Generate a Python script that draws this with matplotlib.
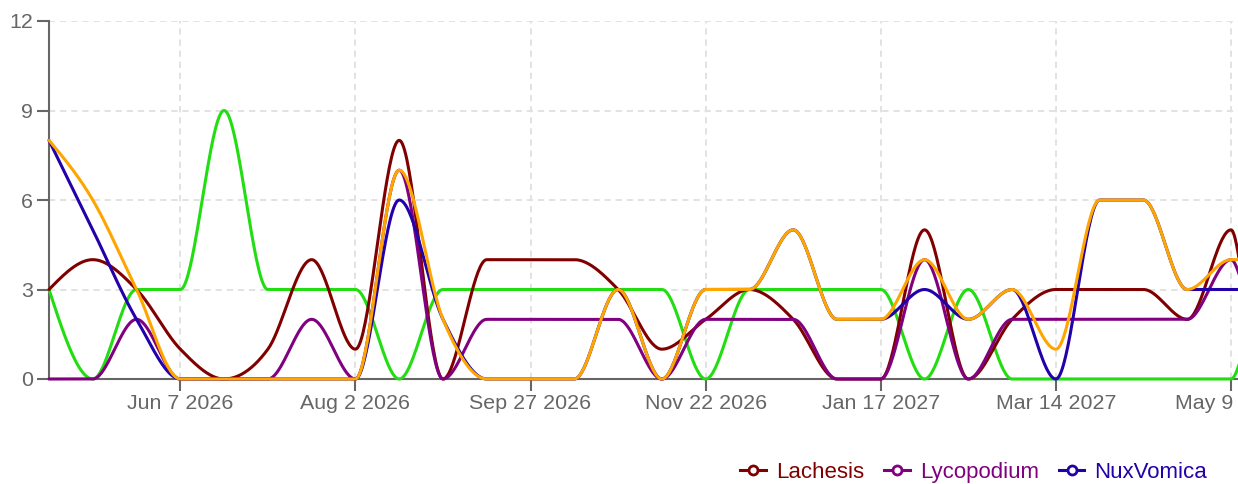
import numpy as np
import pandas as pd
import matplotlib
matplotlib.use("Agg")
import matplotlib.pyplot as plt
import matplotlib.dates as mdates
from matplotlib.lines import Line2D

plt.rcParams['font.family'] = ['Liberation Sans', 'DejaVu Sans']
plt.rcParams['lines.scale_dashes'] = False

# ---------------- data ----------------
dates = list(pd.date_range('2026-04-26', periods=28, freq='14D')) + [pd.Timestamp('2027-05-13')]

lachesis   = [3, 4, 3, 1, 0, 1, 4, 1, 8, 0, 4, 4, 4, 3, 1, 2, 3, 2, 0, 0, 5, 0, 2, 3, 3, 3, 2, 5, 3]
lycopodium = [0, 0, 2, 0, 0, 0, 2, 0, 7, 0, 2, 2, 2, 2, 0, 2, 2, 2, 0, 0, 4, 0, 2, 2, 2, 2, 2, 4, 3]
nuxvomica  = [8, 5, 2, 0, 0, 0, 0, 0, 6, 2, 0, 0, 0, 3, 0, 3, 3, 5, 2, 2, 3, 2, 3, 0, 6, 6, 3, 3, 3]
series_4   = [3, 0, 3, 3, 9, 3, 3, 3, 0, 3, 3, 3, 3, 3, 3, 0, 3, 3, 3, 3, 0, 3, 0, 0, 0, 0, 0, 0, 1]
series_5   = [8, 6, 3, 0, 0, 0, 0, 0, 7, 2, 0, 0, 0, 3, 0, 3, 3, 5, 2, 2, 4, 2, 3, 1, 6, 6, 3, 4, 4]

tick_dates = ['2026-06-07', '2026-08-02', '2026-09-27', '2026-11-22',
              '2027-01-17', '2027-03-14', '2027-05-09']
tick_labels = ['Jun 7 2026', 'Aug 2 2026', 'Sep 27 2026', 'Nov 22 2026',
               'Jan 17 2027', 'Mar 14 2027', 'May 9 2027']
y_ticks = [0, 3, 6, 9, 12]

series = [
    ('Lachesis', lachesis, '#800000', 3.2, True),
    ('Lycopodium', lycopodium, '#800080', 3.3, True),
    ('NuxVomica', nuxvomica, '#2200aa', 3.4, True),
    ('series_4', series_4, '#22dd11', 3.05, False),
    ('series_5', series_5, '#ffa500', 3.5, False),
]


# d3 curveMonotoneX
def monotone_x(x, y, n_per=40):
    x = np.asarray(x, float)
    y = np.asarray(y, float)
    n = len(x)
    m = np.zeros(n)

    def sign(v):
        return -1.0 if v < 0 else 1.0

    for i in range(1, n - 1):
        h0 = x[i] - x[i - 1]
        h1 = x[i + 1] - x[i]
        s0 = (y[i] - y[i - 1]) / h0
        s1 = (y[i + 1] - y[i]) / h1
        p = (s0 * h1 + s1 * h0) / (h0 + h1)
        v = (sign(s0) + sign(s1)) * min(abs(s0), abs(s1), 0.5 * abs(p))
        m[i] = v if np.isfinite(v) else 0.0
    s_first = (y[1] - y[0]) / (x[1] - x[0])
    m[0] = (3 * s_first - m[1]) / 2
    s_last = (y[-1] - y[-2]) / (x[-1] - x[-2])
    m[-1] = (3 * s_last - m[-2]) / 2

    xs, ys = [], []
    for i in range(n - 1):
        h = x[i + 1] - x[i]
        t = np.linspace(0, 1, n_per, endpoint=(i == n - 2))
        h00 = 2 * t**3 - 3 * t**2 + 1
        h10 = t**3 - 2 * t**2 + t
        h01 = -2 * t**3 + 3 * t**2
        h11 = t**3 - t**2
        xs.append(x[i] + t * h)
        ys.append(h00 * y[i] + h10 * h * m[i] + h01 * y[i + 1] + h11 * h * m[i + 1])
    return np.concatenate(xs), np.concatenate(ys)


W, H = 1238, 484
fig = plt.figure(figsize=(W / 100, H / 100), dpi=100)
ax = fig.add_axes([49 / W, (H - 379) / H, (W - 49) / W, (379 - 21) / H])

xnum = mdates.date2num(dates)
for name, vals, color, z, _ in series:
    sx, sy = monotone_x(xnum, vals)
    ax.plot(sx, sy, color=color, lw=2.2, zorder=z, clip_on=False,
            solid_capstyle='round', solid_joinstyle='round')

x_left = mdates.date2num(pd.Timestamp('2026-04-26'))
x_right = mdates.date2num(pd.Timestamp('2027-05-09')) + 7 / 3.128
ax.set_xlim(x_left, x_right)
ax.set_ylim(0, 12)

ax.set_xticks(mdates.date2num(pd.to_datetime(tick_dates)))
ax.set_xticklabels(tick_labels)
ax.set_yticks(y_ticks)
ax.set_yticklabels([str(v) for v in y_ticks])

for s in ['top', 'right']:
    ax.spines[s].set_visible(False)
for s in ['left', 'bottom']:
    ax.spines[s].set_color('#666666')
    ax.spines[s].set_linewidth(1.5)

ax.tick_params(axis='both', colors='#666666', labelsize=15.4, width=1.5, length=8.5)
ax.tick_params(axis='x', pad=2)
ax.tick_params(axis='y', pad=3)
for lbl in ax.get_xticklabels() + ax.get_yticklabels():
    lbl.set_color('#666666')

ax.grid(True, color='#e2e2e2', lw=1.4, dashes=(4.5, 3.5))
ax.set_axisbelow(True)

handles = []
labels = []
for name, vals, color, z, in_legend in series:
    if in_legend:
        handles.append(Line2D([], [], color=color, lw=2.2, marker='o', markersize=6.5,
                              markerfacecolor='white', markeredgecolor=color,
                              markeredgewidth=2))
        labels.append(name)
fig.legend(handles, labels, loc='center left', bbox_to_anchor=(740 / W, 1 - 472.5 / H),
           ncol=3, frameon=False, borderpad=0, borderaxespad=0, handlelength=1.16,
           handletextpad=0.45, columnspacing=0.9, labelcolor='linecolor', fontsize=16)

fig.savefig('out.png', dpi=100)
